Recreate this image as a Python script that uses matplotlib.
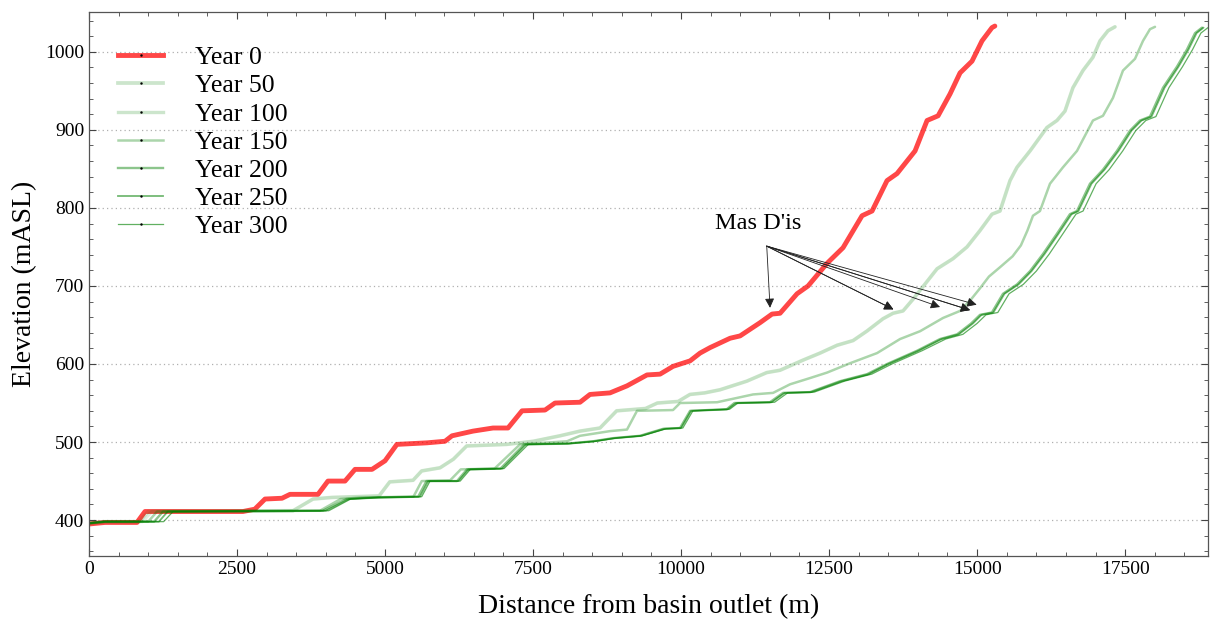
import matplotlib
matplotlib.use("Agg")
import matplotlib.pyplot as plt
from matplotlib.lines import Line2D
from matplotlib.ticker import MultipleLocator

plt.rcParams['font.family'] = ['Liberation Serif', 'DejaVu Serif']
plt.rcParams['mathtext.fontset'] = 'stix'

# ---------------- data ----------------
labels = ["Year 0", "Year 50", "Year 100", "Year 150", "Year 200", "Year 250", "Year 300"]

x_y0 = [0, 270, 811, 946, 2600, 2800, 2973, 3260, 3395, 3868, 4036, 4324, 4493, 4780, 5000, 5200,
        5709, 6013, 6131, 6486, 6824, 7077, 7314, 7702, 7871, 8293, 8462, 8800, 9087, 9425, 9645,
        9865, 10152, 10321, 10490, 10828, 10997, 11335, 11537, 11672, 11959, 12145, 12466, 12736,
        13057, 13226, 13479, 13648, 13952, 14155, 14341, 14543, 14712, 14914, 15083, 15252, 15300]
z_y0 = [395, 397, 397, 411, 411, 414, 427, 428, 433, 433, 450, 450, 465, 465, 476, 497,
        499, 501, 508, 514, 518, 518, 540, 541, 550, 551, 561, 563, 572, 586, 587,
        597, 604, 614, 621, 633, 636, 653, 664, 665, 690, 700, 729, 749,
        790, 796, 835, 844, 873, 912, 918, 946, 973, 988, 1014, 1031, 1033]

x_y50 = [0, 270, 850, 1000, 3446, 3784, 4100, 4900, 5080, 5473, 5619, 5929, 6154, 6379, 7055,
         7505, 7955, 8293, 8631, 8912, 9400, 9600, 9950, 10150, 10400, 10659, 11110, 11447, 11672,
         12061, 12348, 12635, 12905, 13136, 13411, 13580, 13749, 13918, 14324, 14594, 14830, 15049,
         15252, 15387, 15556, 15674, 15894, 16180, 16349, 16484, 16619, 16788, 16957, 17076, 17211, 17329]
z_y50 = [396, 398, 398, 411, 412, 427, 429, 431, 449, 451, 463, 467, 478, 495, 497,
         501, 508, 514, 518, 540, 543, 550, 552, 561, 563, 567, 578, 589, 592,
         605, 614, 624, 630, 642, 658, 665, 668, 683, 722, 735, 750, 771,
         792, 796, 835, 852, 873, 903, 912, 924, 954, 976, 993, 1014, 1027, 1032]

x_y100 = [0, 270, 900, 1060, 3446, 3784, 4100, 4900, 5080, 5473, 5619, 5929, 6154, 6379, 7055,
          7505, 7955, 8293, 8631, 8912, 9400, 9600, 9950, 10150, 10400, 10659, 11110, 11447, 11672,
          12061, 12348, 12635, 12905, 13136, 13411, 13580, 13749, 13918, 14324, 14594, 14830, 15049,
          15252, 15387, 15556, 15674, 15894, 16180, 16349, 16484, 16619, 16788, 16957, 17076, 17211, 17329]
z_y100 = [396, 398, 398, 411, 412, 427, 429, 431, 449, 451, 463, 467, 478, 495, 497,
          501, 508, 514, 518, 540, 543, 550, 552, 561, 563, 567, 578, 589, 592,
          605, 614, 624, 630, 642, 658, 665, 668, 683, 722, 735, 750, 771,
          792, 796, 835, 852, 873, 903, 912, 924, 954, 976, 993, 1014, 1027, 1032]

x_y150 = [0, 270, 1000, 1150, 3900, 4250, 4600, 5480, 5620, 6100, 6280, 6850, 7280, 8074, 8293,
          8800, 9087, 9256, 9864, 9983, 10608, 11216, 11554, 11841, 12179, 12466, 12855, 13311,
          13699, 14037, 14425, 14712, 14900, 15049, 15200, 15387, 15600, 15740, 15850, 15944, 16062,
          16231, 16450, 16687, 16957, 17126, 17295, 17464, 17667, 17802, 17920, 18005]
z_y150 = [396, 398, 398, 411, 412, 427, 429, 430, 450, 451, 465, 466, 497, 501, 508,
          514, 516, 540, 541, 550, 551, 561, 563, 574, 582, 589, 601, 614,
          632, 642, 659, 668, 683, 697, 712, 724, 738, 752, 771, 790, 796,
          831, 852, 873, 912, 918, 941, 976, 991, 1014, 1029, 1032]

x_y200 = [0, 270, 1100, 1250, 3950, 4350, 4864, 5560, 5700, 6216, 6385, 6950, 7350, 8074, 8513,
          8850, 9306, 9700, 9983, 10152, 10770, 10900, 11500, 11723, 12179, 12686, 13142, 13479,
          13986, 14374, 14661, 14900, 15049, 15250, 15437, 15674, 15894, 16113, 16349, 16568, 16687,
          16906, 17126, 17362, 17582, 17751, 17920, 18140, 18376, 18545, 18681, 18799]
z_y200 = [396, 398, 398, 411, 412, 427, 429, 430, 450, 450, 465, 466, 497, 498, 501,
          505, 508, 517, 518, 540, 542, 550, 551, 563, 564, 578, 587, 600,
          617, 632, 638, 652, 663, 666, 690, 702, 719, 741, 767, 792, 796,
          831, 849, 873, 899, 912, 917, 954, 981, 1003, 1024, 1031]

x_y250 = [0, 270, 1180, 1330, 4000, 4390, 4880, 5590, 5730, 6240, 6410, 6980, 7380, 8090, 8530,
          8870, 9320, 9720, 10000, 10170, 10790, 10930, 11530, 11750, 12200, 12710, 13170, 13500,
          14010, 14400, 14690, 14930, 15075, 15275, 15462, 15700, 15920, 16140, 16375, 16595, 16712,
          16932, 17152, 17388, 17608, 17777, 17946, 18166, 18402, 18571, 18707, 18825]
z_y250 = [396, 398, 398, 411, 412, 427, 429, 430, 450, 450, 465, 466, 497, 498, 501,
          505, 508, 517, 518, 540, 542, 550, 551, 563, 564, 578, 587, 600,
          617, 632, 638, 652, 663, 666, 690, 702, 719, 741, 767, 792, 796,
          831, 849, 873, 899, 912, 917, 954, 981, 1003, 1024, 1031]

x_y300 = [0, 270, 1260, 1420, 4050, 4420, 4900, 5620, 5760, 6270, 6440, 7010, 7420, 8110, 8560,
          8900, 9350, 9750, 10030, 10200, 10820, 10960, 11580, 11800, 12250, 12760, 13220, 13560,
          14070, 14470, 14760, 15000, 15150, 15350, 15540, 15780, 16000, 16220, 16450, 16670, 16790,
          17010, 17230, 17460, 17680, 17850, 18020, 18240, 18470, 18640, 18780, 18900]
z_y300 = [396, 398, 398, 411, 412, 427, 429, 430, 450, 450, 465, 466, 497, 498, 501,
          505, 508, 517, 518, 540, 542, 550, 551, 563, 564, 578, 587, 600,
          617, 632, 638, 652, 663, 666, 690, 702, 719, 741, 767, 792, 796,
          831, 849, 873, 899, 912, 917, 954, 981, 1003, 1024, 1031]

xs = [x_y0, x_y50, x_y100, x_y150, x_y200, x_y250, x_y300]
zs = [z_y0, z_y50, z_y100, z_y150, z_y200, z_y250, z_y300]

# annotation: "Mas D'is" arrows
label_xy = (11300, 780)
arrow_origin = (11447, 751)
arrow_tips_x = [11503, 13586, 13586, 14374, 14881, 14881, 14993]
arrow_tips_y = [672, 670, 670, 673, 669, 669, 676]

# ---------------- styling ----------------
colors = [(1.0, 0.0, 0.0, 0.72),
          (0.0, 0.5, 0.0, 0.12),
          (0.0, 0.5, 0.0, 0.12),
          (0.0, 0.5, 0.0, 0.33),
          (0.0, 0.5, 0.0, 0.45),
          (0.0, 0.5, 0.0, 0.55),
          (0.0, 0.5, 0.0, 0.62)]
widths = [3.5, 2.7, 2.4, 1.8, 1.7, 1.3, 0.9]

fig = plt.figure(figsize=(12.10, 6.28), dpi=100)
ax = fig.add_axes([89/1210, 1-556/628, (1208-89)/1210, (556-12)/628])

for x, z, c, w in zip(xs, zs, colors, widths):
    ax.plot(x, z, color=c, lw=w, solid_capstyle='round', solid_joinstyle='round')

ax.set_xlim(0, 18900)
ax.set_ylim(354, 1051)
ax.xaxis.set_major_locator(MultipleLocator(2500))
ax.xaxis.set_minor_locator(MultipleLocator(500))
ax.yaxis.set_major_locator(MultipleLocator(100))
ax.yaxis.set_minor_locator(MultipleLocator(20))
ax.tick_params(which='both', direction='in', top=True, right=True, labelsize=14,
               color='#444444')
ax.tick_params(which='major', length=5, width=0.8)
ax.tick_params(which='minor', length=3, width=0.6)
for s in ax.spines.values():
    s.set_color('#555555')
    s.set_linewidth(0.9)
ax.grid(axis='y', which='major', linestyle=(0, (1, 2.5)), color='#b0b0b0', lw=0.9)
ax.set_axisbelow(True)

ax.set_xlabel("Distance from basin outlet (m)", fontsize=20, labelpad=12)
ax.set_ylabel("Elevation (mASL)", fontsize=20, labelpad=6)

handles = [Line2D([], [], color=c, lw=w, marker='.', markersize=1.5,
                  markerfacecolor='k', markeredgecolor='k') for c, w in zip(colors, widths)]
handles[1].set_color((0.0, 0.5, 0.0, 0.2))
handles[2].set_color((0.0, 0.5, 0.0, 0.2))
ax.legend(handles, labels, loc='upper left', bbox_to_anchor=(108/1210, 1-36/628),
          bbox_transform=fig.transFigure, frameon=False, fontsize=18.5,
          handlelength=1.75, handletextpad=1.25, labelspacing=0.2, borderpad=0.4,
          borderaxespad=0)

ax.text(label_xy[0], label_xy[1], "Mas D'is", fontsize=17.5, ha='center', va='center')
for tx, ty in zip(arrow_tips_x, arrow_tips_y):
    ax.annotate("", xy=(tx, ty), xytext=arrow_origin,
                arrowprops=dict(arrowstyle='-|>', color='#222222', lw=0.6,
                                mutation_scale=14, shrinkA=0, shrinkB=0))

fig.savefig("out.png", dpi=100)
